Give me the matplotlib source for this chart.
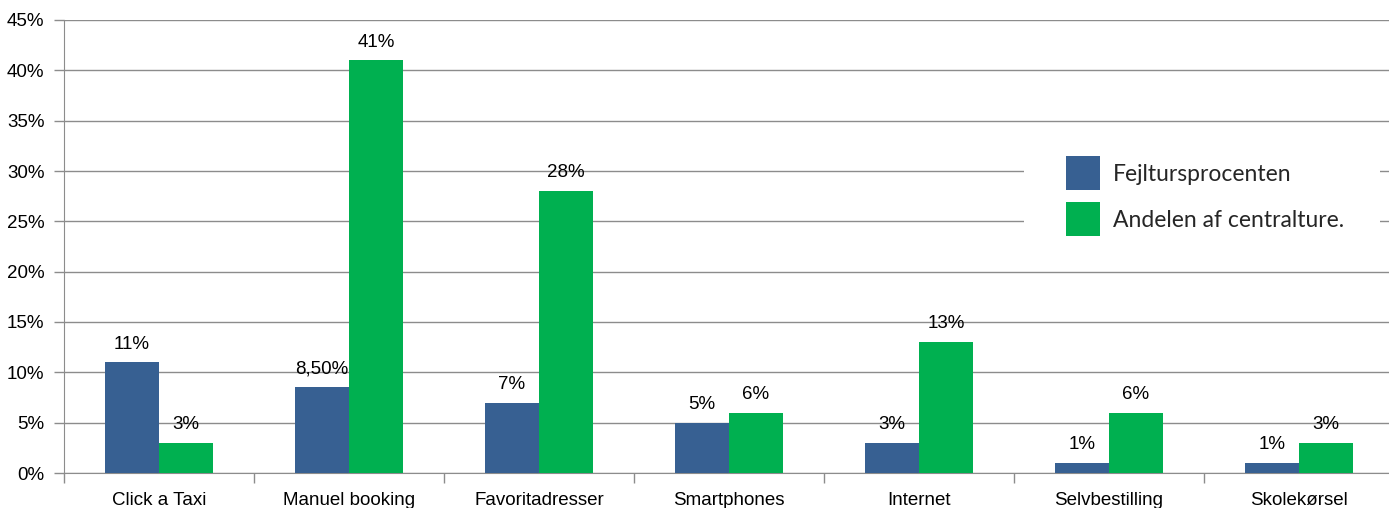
import matplotlib
matplotlib.use("Agg")
import matplotlib.pyplot as plt
import numpy as np
from matplotlib.ticker import FixedLocator
from matplotlib.patches import Rectangle
from matplotlib.legend_handler import HandlerPatch

categories = ["Click a Taxi", "Manuel booking", "Favoritadresser", "Smartphones",
              "Internet", "Selvbestilling", "Skolekørsel"]
fejl = [11, 8.5, 7, 5, 3, 1, 1]
andel = [3, 41, 28, 6, 13, 6, 3]
fejl_labels = ["11%", "8,50%", "7%", "5%", "3%", "1%", "1%"]
andel_labels = ["3%", "41%", "28%", "6%", "13%", "6%", "3%"]
series_names = ["Fejltursprocenten", "Andelen af centralture."]

W, H = 1389, 508
fig = plt.figure(figsize=(W / 100, H / 100), dpi=100)
ax = fig.add_axes([64 / W, 1 - 473 / H, (1394 - 64) / W, (473 - 20) / H])

blue = "#376092"
green = "#00B050"
grid = "#8c8c8c"
font = "Liberation Sans"
fs = 13.5

x = np.arange(len(categories))
bw = 54 / 190
b1 = ax.bar(x - bw / 2, fejl, bw, color=blue, edgecolor="none", label=series_names[0], zorder=3)
b2 = ax.bar(x + bw / 2, andel, bw, color=green, edgecolor="none", label=series_names[1], zorder=3)

for bars, labs in ((b1, fejl_labels), (b2, andel_labels)):
    for rect, lab in zip(bars, labs):
        ax.annotate(lab, (rect.get_x() + rect.get_width() / 2, rect.get_height()),
                    xytext=(0, 7), textcoords="offset points", ha="center", va="bottom",
                    fontsize=fs, family=font, zorder=4)

ax.set_ylim(0, 45)
ax.set_xlim(-0.5, 6.5)
ax.set_yticks(np.arange(0, 46, 5))
ax.set_yticklabels([f"{v}%" for v in range(0, 46, 5)], fontsize=fs, family=font)
ax.yaxis.grid(True, color=grid, linewidth=1, zorder=0)
ax.set_axisbelow(True)

ax.set_xticks(x)
ax.set_xticklabels(categories, fontsize=fs, family=font)
ax.tick_params(axis="x", length=0, pad=14)
ax.xaxis.set_minor_locator(FixedLocator(np.arange(-0.5, 7, 1)))
ax.tick_params(axis="x", which="minor", length=7, color=grid, width=1)
ax.tick_params(axis="y", length=7, color=grid, width=1, pad=7)

for s in ["top", "right"]:
    ax.spines[s].set_visible(False)
ax.spines["left"].set_color(grid)
ax.spines["bottom"].set_color(grid)

# white background box behind the legend
fig.patches.append(Rectangle((1024 / W, 1 - 250 / H), (1380 - 1024) / W, (250 - 146) / H,
                             transform=fig.transFigure, facecolor="white", edgecolor="none",
                             zorder=4))

SQ = 24.5  # legend square size in points (~34 px)


def square(legend, orig_handle, xdescent, ydescent, width, height, fontsize):
    cy = -ydescent + height / 2
    return Rectangle((-xdescent, cy - SQ / 2), SQ, SQ)


h1, h2 = b1.patches[0], b2.patches[0]
leg_fs = 16.5
leg = fig.legend(handles=[h1, h2], labels=series_names, loc="upper left",
                 bbox_to_anchor=(1066 / W, 1 - 164 / H),
                 frameon=False,
                 prop={"family": "Lato", "size": leg_fs},
                 handlelength=SQ / leg_fs, handletextpad=0.55, labelspacing=1.11,
                 borderpad=0, borderaxespad=0,
                 handler_map={h1: HandlerPatch(patch_func=square),
                              h2: HandlerPatch(patch_func=square)})
leg.set_zorder(6)
for t in leg.get_texts():
    t.set_color("#262626")

fig.savefig("out.png", dpi=100)
